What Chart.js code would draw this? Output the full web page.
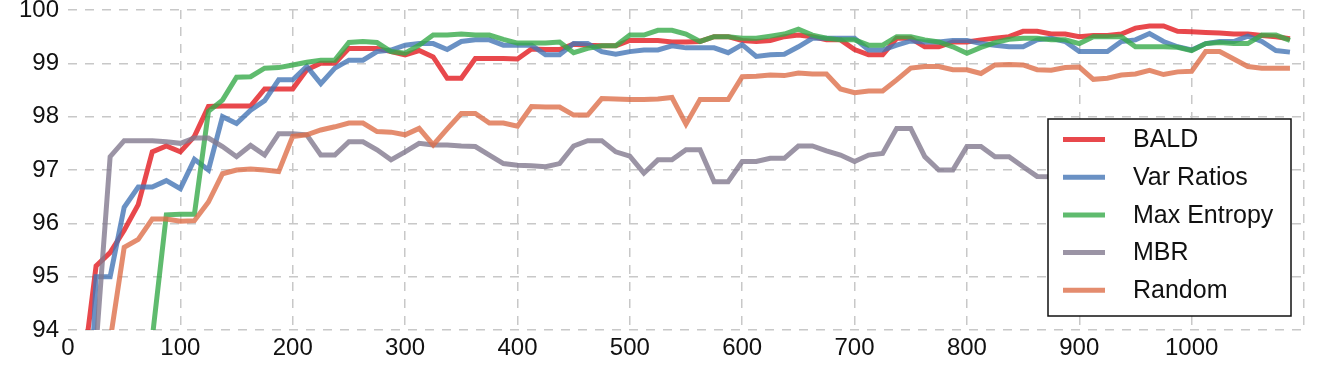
<!DOCTYPE html>
<html>
<head>
<meta charset="utf-8">
<script src="https://cdn.jsdelivr.net/npm/chart.js@4.4.1/dist/chart.umd.min.js"></script>
<style>
  html, body { margin: 0; padding: 0; background: #fff; }
  canvas { display: block; }
</style>
</head>
<body>
<canvas id="grafico" width="1317" height="368"></canvas>
<script>
// numero de imagens adquiridas (eixo x)
const acquired = [
  12.5, 25, 37.5, 50, 62.5, 75, 87.5, 100, 112.5, 125,
  137.5, 150, 162.5, 175, 187.5, 200, 212.5, 225, 237.5, 250,
  262.5, 275, 287.5, 300, 312.5, 325, 337.5, 350, 362.5, 375,
  387.5, 400, 412.5, 425, 437.5, 450, 462.5, 475, 487.5, 500,
  512.5, 525, 537.5, 550, 562.5, 575, 587.5, 600, 612.5, 625,
  637.5, 650, 662.5, 675, 687.5, 700, 712.5, 725, 737.5, 750,
  762.5, 775, 787.5, 800, 812.5, 825, 837.5, 850, 862.5, 875,
  887.5, 900, 912.5, 925, 937.5, 950, 962.5, 975, 987.5, 1000,
  1012.5, 1025, 1037.5, 1050, 1062.5, 1075, 1087.5
];

const bald = [
  93.1, 95.2, 95.45, 95.87, 96.35, 97.34, 97.45, 97.34, 97.63, 98.19,
  98.2, 98.2, 98.2, 98.52, 98.52, 98.52, 98.88, 99.0, 99.0, 99.28,
  99.28, 99.28, 99.22, 99.16, 99.24, 99.12, 98.72, 98.72, 99.09, 99.09,
  99.09, 99.08, 99.27, 99.26, 99.26, 99.36, 99.34, 99.33, 99.33, 99.43,
  99.43, 99.43, 99.4, 99.4, 99.41, 99.5, 99.5, 99.43, 99.41, 99.43,
  99.5, 99.53, 99.5, 99.44, 99.44, 99.26, 99.16, 99.16, 99.47, 99.47,
  99.31, 99.31, 99.4, 99.4, 99.44, 99.47, 99.5, 99.6, 99.6, 99.55,
  99.55, 99.5, 99.52, 99.52, 99.55, 99.66, 99.7, 99.7, 99.6, 99.59,
  99.58, 99.57, 99.55, 99.55, 99.52, 99.5, 99.46
];

const varRatios = [
  89, 95.0, 95.0, 96.3, 96.68, 96.68, 96.8, 96.65, 97.2, 97.0,
  98.0, 97.87, 98.12, 98.3, 98.69, 98.69, 98.94, 98.62, 98.91, 99.06,
  99.06, 99.22, 99.25, 99.34, 99.37, 99.37, 99.26, 99.41, 99.44, 99.44,
  99.34, 99.34, 99.34, 99.16, 99.16, 99.37, 99.37, 99.22, 99.17, 99.22,
  99.25, 99.25, 99.33, 99.29, 99.29, 99.29, 99.2, 99.35, 99.13, 99.16,
  99.17, 99.31, 99.47, 99.47, 99.47, 99.47, 99.25, 99.25, 99.34, 99.42,
  99.4, 99.4, 99.43, 99.43, 99.37, 99.34, 99.31, 99.31, 99.44, 99.47,
  99.41, 99.22, 99.22, 99.22, 99.41, 99.44, 99.56, 99.41, 99.31, 99.25,
  99.37, 99.41, 99.41, 99.51, 99.41, 99.24, 99.21
];

const maxEntropy = [
  null, null, null, null, null, 93.85, 96.16, 96.17, 96.17, 98.1,
  98.31, 98.74, 98.75, 98.91, 98.92, 98.97, 99.02, 99.06, 99.06, 99.39,
  99.41, 99.39, 99.22, 99.19, 99.34, 99.53, 99.53, 99.55, 99.53, 99.53,
  99.45, 99.38, 99.38, 99.38, 99.4, 99.2, 99.28, 99.33, 99.33, 99.53,
  99.53, 99.62, 99.62, 99.55, 99.41, 99.5, 99.5, 99.47, 99.47, 99.51,
  99.55, 99.64, 99.53, 99.47, 99.44, 99.44, 99.34, 99.34, 99.5, 99.5,
  99.44, 99.4, 99.31, 99.19, 99.3, 99.39, 99.45, 99.47, 99.47, 99.44,
  99.44, 99.37, 99.5, 99.5, 99.5, 99.31, 99.31, 99.31, 99.3, 99.24,
  99.37, 99.39, 99.37, 99.37, 99.53, 99.53, 99.43
];

// MBR fica escondido atras da legenda entre ~875 e ~1075
const mbr = [
  null, 93.7, 97.25, 97.55, 97.55, 97.55, 97.53, 97.5, 97.6, 97.6,
  97.44, 97.25, 97.46, 97.28, 97.68, 97.68, 97.66, 97.28, 97.28, 97.53,
  97.53, 97.38, 97.19, 97.34, 97.5, 97.47, 97.47, 97.45, 97.44, 97.28,
  97.12, 97.09, 97.08, 97.06, 97.12, 97.45, 97.55, 97.55, 97.34, 97.26,
  96.94, 97.19, 97.19, 97.38, 97.38, 96.78, 96.78, 97.16, 97.16, 97.22,
  97.22, 97.45, 97.45, 97.36, 97.28, 97.16, 97.28, 97.31, 97.78, 97.78,
  97.25, 97.0, 97.0, 97.44, 97.44, 97.25, 97.25, 97.06, 96.88, null,
  null, null, null, null, null, null, null, null, null, null,
  null, null, null, null, null, null, 96.81
];

const random = [
  null, null, 93.8, 95.55, 95.7, 96.08, 96.08, 96.04, 96.05, 96.4,
  96.93, 97.0, 97.02, 97.0, 96.97, 97.63, 97.66, 97.75, 97.81, 97.88,
  97.88, 97.72, 97.71, 97.66, 97.78, 97.47, 97.77, 98.06, 98.06, 97.88,
  97.88, 97.82, 98.19, 98.18, 98.18, 98.03, 98.03, 98.34, 98.33, 98.32,
  98.32, 98.33, 98.36, 97.86, 98.32, 98.32, 98.32, 98.75, 98.76, 98.78,
  98.77, 98.82, 98.8, 98.8, 98.52, 98.45, 98.48, 98.48, 98.69, 98.91,
  98.94, 98.94, 98.88, 98.88, 98.81, 98.97, 98.98, 98.97, 98.88, 98.87,
  98.92, 98.93, 98.7, 98.72, 98.78, 98.8, 98.87, 98.79, 98.84, 98.85,
  99.22, 99.22, 99.08, 98.94, 98.91, 98.91, 98.91
];

const nomes = ['BALD', 'Var Ratios', 'Max Entropy', 'MBR', 'Random'];
const series = [bald, varRatios, maxEntropy, mbr, random];
const cores = [
  'rgba(226, 26, 31, 0.8)',
  'rgba(69, 118, 181, 0.8)',
  'rgba(55, 170, 74, 0.8)',
  'rgba(130, 121, 143, 0.8)',
  'rgba(221, 111, 74, 0.8)'
];

const fonte = '"Liberation Sans", Arial, Helvetica, sans-serif';
const corGrade = '#c8c8c8';

const pontos = (vals) => vals.map((v, i) => ({ x: acquired[i], y: v }));

// legenda desenhada por cima das linhas, com fundo branco e borda preta
const legendaCaixa = {
  id: 'legendaCaixa',
  afterDatasetsDraw(chart) {
    const c = chart.ctx;
    const area = chart.chartArea;
    const x0 = area.right - 256, y0 = area.top + 109;
    const w = 243, h = 197;
    c.save();
    c.fillStyle = '#fff';
    c.fillRect(x0, y0, w, h);
    c.strokeStyle = '#111';
    c.lineWidth = 1.5;
    c.strokeRect(x0, y0, w, h);
    c.font = '25px ' + fonte;
    c.textBaseline = 'middle';
    c.textAlign = 'left';
    nomes.forEach((nome, i) => {
      const yy = y0 + 20.5 + i * 37.7;
      c.strokeStyle = cores[i];
      c.lineWidth = 5;
      c.beginPath();
      c.moveTo(x0 + 15, yy);
      c.lineTo(x0 + 57, yy);
      c.stroke();
      c.fillStyle = '#111';
      c.fillText(nome, x0 + 85, yy + 1);
    });
    c.restore();
  }
};

const grafico = new Chart(document.getElementById('grafico'), {
  type: 'line',
  data: {
    datasets: series.map((s, i) => ({
      label: nomes[i],
      data: pontos(s),
      borderColor: cores[i],
      backgroundColor: cores[i],
      borderWidth: 5,
      pointRadius: 0,
      tension: 0,
      fill: false,
      spanGaps: true,
      clip: 0,
      order: 5 - i
    }))
  },
  options: {
    responsive: false,
    animation: false,
    devicePixelRatio: 1,
    layout: { padding: { top: 10, right: 13, left: 0, bottom: 0 } },
    plugins: {
      legend: { display: false },
      tooltip: { enabled: false }
    },
    scales: {
      x: {
        type: 'linear',
        min: 0,
        max: 1100,
        border: { display: false, dash: [9, 8] },
        grid: {
          color: (ctx) => (ctx.tick && ctx.tick.value === 0) ? 'rgba(0,0,0,0)' : corGrade,
          lineWidth: 1.5,
          drawTicks: false
        },
        ticks: {
          stepSize: 100,
          autoSkip: false,
          maxRotation: 0,
          padding: 4,
          color: '#111',
          font: { family: fonte, size: 24 },
          callback: (v) => v > 1000 ? '' : v
        },
        afterFit: (s) => { s.height = 38; s.paddingLeft = 0; s.paddingRight = 0; }
      },
      y: {
        min: 94,
        max: 100,
        border: { display: false, dash: [9, 8] },
        grid: { color: corGrade, lineWidth: 1.5, drawTicks: false },
        ticks: {
          stepSize: 1,
          padding: 9,
          color: '#111',
          font: { family: fonte, size: 24 }
        },
        afterFit: (s) => { s.width = 68; s.paddingTop = 0; s.paddingBottom = 0; }
      }
    }
  },
  plugins: [legendaCaixa]
});
</script>
</body>
</html>
